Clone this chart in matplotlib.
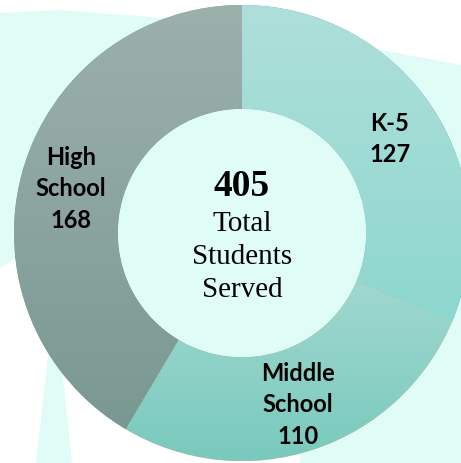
import numpy as np
import matplotlib
matplotlib.use("Agg")
import matplotlib.pyplot as plt
from matplotlib.patches import Polygon
from matplotlib.colors import to_rgb

# data
categories = ["K-5", "Middle\nSchool", "High\nSchool"]
students = [127, 110, 168]
total = sum(students)

W, H = 461, 463
fig = plt.figure(figsize=(W / 100, H / 100), dpi=100)
ax = fig.add_axes([0, 0, 1, 1])

bg = "#e0fcf7"


def py(y):
    # image row -> data y
    return H - y


# pale background shapes
left_shape = [(0, 13), (60, 10), (150, 17), (230, 28), (200, 220), (15, 258), (0, 268)]
strip = [(51, 330), (36, 463), (72, 463), (58, 330)]
right_shape = [(380, 50), (461, 65), (461, 463), (300, 463), (300, 120)]
for pts in (left_shape, strip, right_shape):
    ax.add_patch(Polygon([(x, py(y)) for x, y in pts], closed=True,
                         facecolor=bg, edgecolor="none", zorder=1))

cx, cy = 242, py(233)
r_out, ring_w = 228, 104

wedges, _ = ax.pie(students, radius=r_out, center=(cx, cy), startangle=90,
                   counterclock=False, frame=True,
                   wedgeprops=dict(width=ring_w, edgecolor=(1, 1, 1, 0.35),
                                   linewidth=0.6))
ax.set_xlim(0, W)
ax.set_ylim(0, H)
ax.set_aspect("auto")
ax.axis("off")

# vertical gradients (top colour, bottom colour)
grads = [("#afdfda", "#8dd7ce"),
         ("#a0d8d0", "#79c9bd"),
         ("#9cb0ac", "#7a9892")]
for w, (c_top, c_bot) in zip(wedges, grads):
    w.set_zorder(2)
    ext = w.get_path().get_extents()
    t = np.linspace(0, 1, 256)[:, None]
    top, bot = np.array(to_rgb(c_top)), np.array(to_rgb(c_bot))
    img = (bot * (1 - t) + top * t)[:, None, :]
    im = ax.imshow(img, extent=[ext.x0, ext.x1, ext.y0, ext.y1],
                   origin="lower", aspect="auto", zorder=3)
    im.set_clip_path(w)

# centre hole
hole = plt.Circle((cx, cy), r_out - ring_w, facecolor=bg, edgecolor="none", zorder=4)
ax.add_patch(hole)

# slice labels
label_pos = [(390, 139), (298, 405), (71, 189)]
for name, val, (x, y) in zip(categories, students, label_pos):
    ax.text(x, py(y), f"{name}\n{val}", ha="center", va="center",
            fontsize=17, fontweight="bold", family="Lato", color="black",
            linespacing=1.45, zorder=5)

# centre text
ax.text(242, py(186), f"{total}", ha="center", va="center", fontsize=27,
        fontweight="bold", family="Liberation Serif", zorder=5)
ax.text(242, py(257), "Total\nStudents\nServed", ha="center", va="center",
        fontsize=21, family="Liberation Serif", linespacing=1.34, zorder=5)

fig.savefig("out.png", dpi=100)
plt.close(fig)
